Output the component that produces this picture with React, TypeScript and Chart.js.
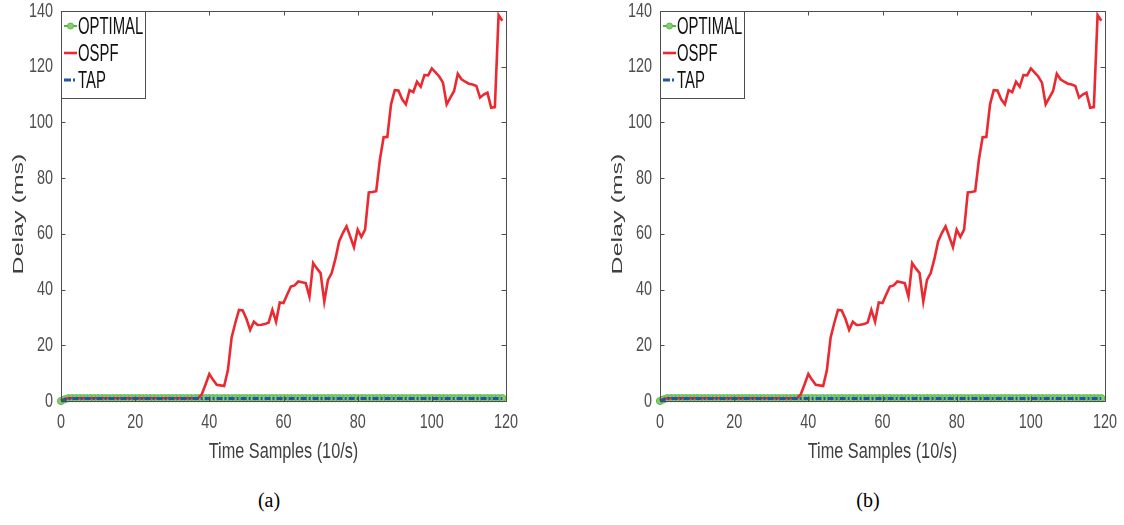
import React, { useEffect, useRef } from "react";
import { Chart, registerables } from "chart.js";

Chart.register(...registerables);

// ---------- data ----------
const timeSamples: number[] = Array.from({ length: 120 }, (_, i) => i);

const optimalDelay: number[] = [
  0, 0.6, 1, 1, 1, 1, 1, 1, 1, 1,
  1, 1, 1, 1, 1, 1, 1, 1, 1, 1,
  1, 1, 1, 1, 1, 1, 1, 1, 1, 1,
  1, 1, 1, 1, 1, 1, 1, 1, 1, 1,
  1, 1, 1, 1, 1, 1, 1, 1, 1, 1,
  1, 1, 1, 1, 1, 1, 1, 1, 1, 1,
  1, 1, 1, 1, 1, 1, 1, 1, 1, 1,
  1, 1, 1, 1, 1, 1, 1, 1, 1, 1,
  1, 1, 1, 1, 1, 1, 1, 1, 1, 1,
  1, 1, 1, 1, 1, 1, 1, 1, 1, 1,
  1, 1, 1, 1, 1, 1, 1, 1, 1, 1,
  1, 1, 1, 1, 1, 1, 1, 1, 1, 1,
];

const ospfDelay: number[] = [
  0.2, 0.7, 1, 1, 1, 1, 1, 1, 1, 1,
  1, 1, 1, 1, 1, 1, 1, 1, 1, 1,
  1, 1, 1, 1, 1, 1, 1, 1, 1, 1,
  1, 1, 1, 1, 1, 1, 1, 1, 2.5, 6.0,
  9.7, 7.6, 5.8, 5.6, 5.4, 11.0, 22.7, 28.0, 32.7, 32.5,
  29.5, 25.5, 28.5, 27.3, 27.4, 27.6, 28.2, 32.7, 28.5, 35.4,
  35.2, 38.2, 41.1, 41.5, 42.9, 42.6, 42.3, 37.5, 49.5, 47.6,
  45.9, 35.7, 43.5, 45.9, 51.0, 57.3, 60.3, 62.7, 59.0, 55.2,
  61.5, 58.9, 61.5, 74.9, 75.0, 75.3, 86.7, 94.7, 94.8, 106.5,
  111.6, 111.5, 108.3, 106.5, 111.6, 110.9, 114.6, 112.8, 117.0, 116.9,
  119.4, 118.0, 116.5, 114.3, 106.5, 108.9, 111.3, 117.5, 115.5, 114.6,
  113.9, 113.6, 113.1, 108.9, 110.0, 110.7, 105.3, 105.5, 138.5, 136.5,
];

const tapDelay: number[] = [
  0, 0.5, 0.9, 0.9, 0.9, 0.9, 0.9, 0.9, 0.9, 0.9,
  0.9, 0.9, 0.9, 0.9, 0.9, 0.9, 0.9, 0.9, 0.9, 0.9,
  0.9, 0.9, 0.9, 0.9, 0.9, 0.9, 0.9, 0.9, 0.9, 0.9,
  0.9, 0.9, 0.9, 0.9, 0.9, 0.9, 0.9, 0.9, 0.9, 0.9,
  0.9, 0.9, 0.9, 0.9, 0.9, 0.9, 0.9, 0.9, 0.9, 0.9,
  0.9, 0.9, 0.9, 0.9, 0.9, 0.9, 0.9, 0.9, 0.9, 0.9,
  0.9, 0.9, 0.9, 0.9, 0.9, 0.9, 0.9, 0.9, 0.9, 0.9,
  0.9, 0.9, 0.9, 0.9, 0.9, 0.9, 0.9, 0.9, 0.9, 0.9,
  0.9, 0.9, 0.9, 0.9, 0.9, 0.9, 0.9, 0.9, 0.9, 0.9,
  0.9, 0.9, 0.9, 0.9, 0.9, 0.9, 0.9, 0.9, 0.9, 0.9,
  0.9, 0.9, 0.9, 0.9, 0.9, 0.9, 0.9, 0.9, 0.9, 0.9,
  0.9, 0.9, 0.9, 0.9, 0.9, 0.9, 0.9, 0.9, 0.9, 0.9,
];

const xTicks: number[] = [0, 20, 40, 60, 80, 100, 120];
const yTicks: number[] = [0, 20, 40, 60, 80, 100, 120, 140];
const seriesLabels: string[] = ["OPTIMAL", "OSPF", "TAP"];
const xTitle = "Time Samples (10/s)";
const yTitle = "Delay (ms)";
const panelCaptions: string[] = ["(a)", "(b)"];

// ---------- styles ----------
const SANS = '"Liberation Sans", Arial, Helvetica, sans-serif';
const AXIS_GRAY = "#4d4d4d";
const TEXT_GRAY = "#404040";
const CANVAS_W = 525;
const CANVAS_H = 475;

const toPoints = (vals: number[]) => vals.map((v, i) => ({ x: timeSamples[i], y: v }));

// draw text condensed horizontally (the reference figure is squeezed sideways)
function squeezedText(
  ctx: CanvasRenderingContext2D,
  text: string,
  x: number,
  y: number,
  size: number,
  sx: number,
  align: CanvasTextAlign,
  color: string
) {
  ctx.save();
  ctx.translate(x, y);
  ctx.scale(sx, 1);
  ctx.font = `${size}px ${SANS}`;
  ctx.textAlign = align;
  ctx.textBaseline = "middle";
  ctx.fillStyle = color;
  ctx.fillText(text, 0, 0);
  ctx.restore();
}

const framePlugin = {
  id: "frameTicks",
  afterDatasetsDraw(chart: any) {
    const { ctx, chartArea, scales } = chart;
    const { left, top, right, bottom } = chartArea;
    const xs = scales.x;
    const ys = scales.y;
    ctx.save();
    ctx.strokeStyle = AXIS_GRAY;
    ctx.lineWidth = 1;
    ctx.setLineDash([]);
    ctx.strokeRect(left + 0.5, top + 0.5, right - left, bottom - top);
    const tl = 4.5;
    ctx.beginPath();
    xs.ticks.forEach((t: any) => {
      const px = Math.round(xs.getPixelForValue(t.value)) + 0.5;
      ctx.moveTo(px, bottom);
      ctx.lineTo(px, bottom - tl);
      ctx.moveTo(px, top);
      ctx.lineTo(px, top + tl);
    });
    ys.ticks.forEach((t: any) => {
      const py = Math.round(ys.getPixelForValue(t.value)) + 0.5;
      ctx.moveTo(left, py);
      ctx.lineTo(left + tl, py);
      ctx.moveTo(right, py);
      ctx.lineTo(right - tl, py);
    });
    ctx.stroke();
    ctx.restore();
  },
  afterDraw(chart: any) {
    const { ctx, chartArea, scales } = chart;
    const { left, top, right, bottom } = chartArea;
    const xs = scales.x;
    const ys = scales.y;

    // tick labels from the library's scales
    xs.ticks.forEach((t: any) => {
      const px = xs.getPixelForValue(t.value);
      squeezedText(ctx, String(t.label ?? t.value), px, bottom + 21, 20, 0.72, "center", AXIS_GRAY);
    });
    ys.ticks.forEach((t: any) => {
      const py = ys.getPixelForValue(t.value);
      squeezedText(ctx, String(t.label ?? t.value), left - 8, py, 20, 0.72, "right", AXIS_GRAY);
    });

    // axis titles
    squeezedText(ctx, xs.options.title.text, (left + right) / 2, bottom + 51, 22, 0.74, "center", TEXT_GRAY);
    ctx.save();
    ctx.translate(19, 214);
    ctx.rotate(-Math.PI / 2);
    ctx.scale(1, 0.58);
    ctx.fillStyle = TEXT_GRAY;
    ctx.font = `25px ${SANS}`;
    ctx.textAlign = "center";
    ctx.textBaseline = "middle";
    ctx.fillText(ys.options.title.text, 0, 0);
    ctx.restore();

    // legend box
    ctx.save();
    const bw = 84;
    const bh = 87;
    ctx.fillStyle = "#ffffff";
    ctx.fillRect(left, top, bw, bh);
    ctx.strokeStyle = AXIS_GRAY;
    ctx.lineWidth = 1;
    ctx.strokeRect(left + 0.5, top + 0.5, bw, bh);
    chart.data.datasets.forEach((ds: any, i: number) => {
      const rowY = top + 15 + i * 27;
      ctx.save();
      ctx.strokeStyle = ds.borderColor;
      ctx.lineWidth = ds.borderWidth;
      ctx.setLineDash(ds.legendDash || []);
      ctx.beginPath();
      ctx.moveTo(left + 3, rowY);
      ctx.lineTo(left + 16, rowY);
      ctx.stroke();
      ctx.setLineDash([]);
      if (ds.pointRadius > 0) {
        ctx.beginPath();
        ctx.fillStyle = ds.pointBackgroundColor;
        ctx.strokeStyle = ds.pointBorderColor;
        ctx.lineWidth = 1;
        ctx.arc(left + 9.5, rowY, 3, 0, Math.PI * 2);
        ctx.fill();
        ctx.stroke();
      }
      ctx.restore();
      squeezedText(ctx, ds.label, left + 17, rowY + 1, 24, 0.62, "left", "#111111");
    });
    ctx.restore();
  },
};

function Panel({ left, caption }: { left: number; caption: string }) {
  const ref = useRef<HTMLCanvasElement | null>(null);
  useEffect(() => {
    if (!ref.current) return;
    const chart = new Chart(ref.current, {
      type: "line",
      data: {
        datasets: [
          {
            label: seriesLabels[0],
            data: toPoints(optimalDelay),
            borderColor: "#55b543",
            backgroundColor: "#8fd27d",
            borderWidth: 2,
            pointRadius: 3.6,
            pointStyle: "circle",
            pointBackgroundColor: "#86cf6f",
            pointBorderColor: "#5db64a",
            pointBorderWidth: 1,
            order: 3,
            clip: false,
          } as any,
          {
            label: seriesLabels[1],
            data: toPoints(ospfDelay),
            borderColor: "#ea2a30",
            backgroundColor: "#ea2a30",
            borderWidth: 2.6,
            pointRadius: 0,
            order: 2,
            clip: false,
          } as any,
          {
            label: seriesLabels[2],
            data: toPoints(tapDelay),
            borderColor: "#2255a6",
            backgroundColor: "#2255a6",
            borderWidth: 3,
            borderDash: [6, 2, 2, 2],
            legendDash: [7, 2, 2, 2],
            pointRadius: 0,
            order: 1,
            clip: false,
          } as any,
        ],
      },
      options: {
        responsive: false,
        animation: false,
        layout: { padding: { top: 11, right: 19, left: 0, bottom: 0 } },
        plugins: { legend: { display: false }, tooltip: { enabled: false } },
        scales: {
          x: {
            type: "linear",
            min: 0,
            max: 120,
            afterBuildTicks: (s: any) => {
              s.ticks = xTicks.map((v) => ({ value: v }));
            },
            afterFit: (s: any) => {
              s.height = 74;
            },
            grid: { display: false, drawTicks: false },
            border: { display: false },
            ticks: { display: false, autoSkip: false },
            title: { display: false, text: xTitle },
          },
          y: {
            type: "linear",
            min: 0,
            max: 140,
            afterBuildTicks: (s: any) => {
              s.ticks = yTicks.map((v) => ({ value: v }));
            },
            afterFit: (s: any) => {
              s.width = 61;
            },
            grid: { display: false, drawTicks: false },
            border: { display: false },
            ticks: { display: false, autoSkip: false },
            title: { display: false, text: yTitle },
          },
        },
      } as any,
      plugins: [framePlugin],
    });
    return () => chart.destroy();
  }, []);
  return (
    <>
      <canvas
        ref={ref}
        width={CANVAS_W}
        height={CANVAS_H}
        style={{ position: "absolute", left, top: 0, width: CANVAS_W, height: CANVAS_H }}
      />
      <div
        style={{
          position: "absolute",
          left: left + 229,
          top: 488,
          width: 80,
          textAlign: "center",
          fontFamily: '"Liberation Serif", "Times New Roman", serif',
          fontSize: 20,
          lineHeight: "24px",
          color: "#000",
        }}
      >
        {caption}
      </div>
    </>
  );
}

export default function App() {
  return (
    <div
      style={{
        position: "absolute",
        left: 0,
        top: 0,
        width: 1124,
        height: 525,
        background: "#ffffff",
        overflow: "hidden",
      }}
    >
      <Panel left={0} caption={panelCaptions[0]} />
      <Panel left={599} caption={panelCaptions[1]} />
    </div>
  );
}
